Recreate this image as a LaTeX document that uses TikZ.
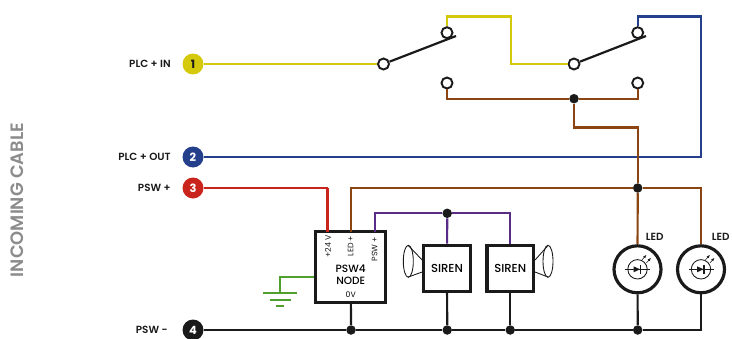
\documentclass[tikz,border=0pt]{standalone}
\usepackage{fontspec}
\setmainfont{Poppins}
\newfontfamily\mediumfont{Poppins Medium}
\newfontfamily\heavyfont{Poppins SemiBold}
\usetikzlibrary{positioning,calc,arrows.meta}
\definecolor{wireyellow}{HTML}{D4C90A}
\definecolor{wireblue}{HTML}{243F8C}
\definecolor{wirered}{HTML}{C9251C}
\definecolor{wirebrown}{HTML}{8B4513}
\definecolor{wirepurple}{HTML}{5B2C86}
\definecolor{wiregreen}{HTML}{4FA02F}
\definecolor{wireblack}{HTML}{1A1A1A}
\definecolor{titlegray}{HTML}{8C8C8C}
\tikzset{
    wire/.style={line width=1.25pt, line join=miter},
    terminal/.style={circle, minimum size=0.42cm, inner sep=0pt, font=\fontsize{6.5}{7}\selectfont\bfseries, text=white},
    contact/.style={draw=wireblack, circle, fill=white, line width=1.1pt, minimum size=0.22cm, inner sep=0pt},
    junction/.style={circle, fill=wireblack, minimum size=0.19cm, inner sep=0pt},
    label/.style={inner sep=0pt, font=\fontsize{5.9}{7}\heavyfont, text=wireblack},
    pinlabel/.style={inner sep=0pt, rotate=90, font=\fontsize{4.5}{5}\selectfont, text=wireblack},
    devicebox/.style={draw=wireblack, fill=white, line width=1.8pt, inner sep=0pt},
    ledring/.style={draw=wireblack, circle, fill=white, line width=1.8pt, minimum size=0.94cm, inner sep=0pt},
}
\begin{document}
\begin{tikzpicture}[x=0.02cm, y=-0.02cm]
    \useasboundingbox (0,0) rectangle (732,338);

    % incoming cable
    \node (title) [rotate=90, inner sep=0pt, text=titlegray, font=\fontsize{10.2}{11}\heavyfont] at (17,200) {INCOMING CABLE};
    \node (one) [terminal, fill=wireyellow, text=wireblack] at (193,64) {1};
    \node (two) [terminal, fill=wireblue] at (193,157) {2};
    \node (three) [terminal, fill=wirered] at (193,188) {3};
    \node (four) [terminal, fill=wireblack] at (193,330) {4};
    \node (plcin) [label, anchor=east] at (171,64) {PLC + IN};
    \node (plcout) [label, anchor=east] at (171,157) {PLC + OUT};
    \node (pswplus) [label, anchor=east] at (171,188) {PSW +};
    \node (pswminus) [label, anchor=east] at (168,330) {PSW -};

    % switches
    \node (pivotA) [contact] at (383.5,64) {};
    \node (upA) [contact] at (447,32.7) {};
    \node (downA) [contact] at (447,83) {};
    \node (pivotB) [contact] at (574,64) {};
    \node (upB) [contact] at (637.7,32.7) {};
    \node (downB) [contact] at (637.7,83) {};
    \coordinate (leverA) at (456,36);
    \coordinate (leverB) at (646,36);
    \coordinate (yellowtop) at (511,16.5);
    \coordinate (bluetop) at (701,16.5);
    \coordinate (browntop) at (637.7,127.5);

    % devices
    \node (psw) [devicebox, minimum width=1.4cm, minimum height=1.41cm] at (350.7,266.9) {};
    \node (sirenA) [devicebox, minimum width=0.93cm, minimum height=0.92cm, font=\fontsize{6.6}{7}\mediumfont] at (447,268.3) {SIREN};
    \node (sirenB) [devicebox, minimum width=0.93cm, minimum height=0.92cm, font=\fontsize{6.6}{7}\mediumfont] at (510.2,268.3) {SIREN};
    \node (ledA) [ledring] at (637.5,269.3) {};
    \node (ledB) [ledring] at (701,269.3) {};
    \node (ledtextA) [label] at (654.7,237.3) {LED};
    \node (ledtextB) [label] at (720.7,237.3) {LED};

    \node (pin24) [pinlabel] at (328,246.7) {+24 V};
    \node (pinled) [pinlabel] at (350.7,246) {LED +};
    \node (pinpsw) [pinlabel] at (374.5,249) {PSW +};
    \node (pswname) [inner sep=0pt, align=center, font=\fontsize{6}{6.6}\mediumfont] at (350.7,275) {PSW4\\NODE};
    \node (pinzero) [inner sep=0pt, font=\fontsize{4.4}{5}\selectfont] at (350.7,295) {0V};

    % junctions
    \node (jbrown) [junction] at (574,98.7) {};
    \node (jled) [junction] at (637.7,188) {};
    \node (jsiren) [junction] at (447.2,213.3) {};
    \node (jzero) [junction] at (351,330) {};
    \node (jsirenA) [junction] at (447.2,330) {};
    \node (jsirenB) [junction] at (510.2,330) {};
    \node (jledA) [junction] at (637.7,330) {};

    \coordinate (topred) at (327.7,231.7);
    \coordinate (topled) at (351,231.7);
    \coordinate (toppsw) at (375,231.7);

    % wires
    \draw [wire, wireyellow] (one) -- (pivotA);
    \draw [wire, wireyellow] (upA) |- (yellowtop) |- (pivotB);
    \draw [wire, wireblue] (two) -| (bluetop) -| (upB);
    \draw [wire, wirered] (three) -- (three -| topred);
    \draw [wire, wirered, line width=1.7pt] (three -| topred) -- (topred);
    \draw [wire, wirebrown] (downA) |- (jbrown);
    \draw [wire, wirebrown] (downB) |- (jbrown);
    \draw [wire, wirebrown] (jbrown) |- (browntop) -- (jled);
    \draw [wire, wirebrown] (jled) -- (ledA);
    \draw [wire, wirebrown] (topled) |- (jled);
    \draw [wire, wirebrown] (jled) -| (ledB);
    \draw [wire, wirepurple] (toppsw) |- (jsiren);
    \draw [wire, wirepurple] (jsiren) -| (sirenB);
    \draw [wire, wirepurple] (jsiren) -- (sirenA);
    \draw [wire, wireblack] (four) -- (jzero);
    \draw [wire, wireblack] (jzero) -- (jsirenA);
    \draw [wire, wireblack] (jsirenA) -- (jsirenB);
    \draw [wire, wireblack] (jsirenB) -- (jledA);
    \draw [wire, wireblack] (jledA) -| (ledB);
    \draw [wire, wireblack] (psw) -- (jzero);
    \draw [wire, wireblack] (sirenA) -- (jsirenA);
    \draw [wire, wireblack] (sirenB) -- (jsirenB);
    \draw [wire, wireblack] (ledA) -- (jledA);
    \draw [wire, wireblack] (pivotA) -- (leverA);
    \draw [wire, wireblack] (pivotB) -- (leverB);

    % ground
    \coordinate (gnd) at (280,293.3);
    \draw [wire, wiregreen] (psw.west |- 0,277.3) -| (gnd);
    \draw [wiregreen, line width=1.1pt] (263,293.3) -- (297,293.3);
    \draw [wiregreen, line width=1.1pt] (269.5,299.7) -- (290.5,299.7);
    \draw [wiregreen, line width=1.1pt] (276,306) -- (284,306);

    % horns
    \draw [wireblack, line width=0.5pt] (408.3,261.3) ellipse [x radius=5, y radius=16];
    \draw [wireblack, line width=0.5pt] (sirenA.west |- 0,260) -- (408.3,245.5);
    \draw [wireblack, line width=0.5pt] (sirenA.west |- 0,272) -- (408.3,277);
    \draw [wireblack, line width=0.5pt] (548,261.3) ellipse [x radius=5, y radius=16];
    \draw [wireblack, line width=0.5pt] (sirenB.east |- 0,260) -- (548,245.5);
    \draw [wireblack, line width=0.5pt] (sirenB.east |- 0,272) -- (548,277);

    % led symbols
    \foreach \led in {ledA,ledB} {
        \begin{scope}[shift={(\led)}]
            \draw [wireblack, line width=0.5pt] (0,0) circle [radius=9.7];
            \draw [wireblack, line width=0.5pt] (-12.5,0) -- (12.5,0);
            \fill [wireblack] (-4,-3) -- (2.5,0) -- (-4,3) -- cycle;
            \draw [wireblack, line width=0.7pt] (3,-4.5) -- (3,4.5);
            \draw [wireblack, line width=0.3pt, -{Latex[length=2pt,width=1.5pt]}] (4.5,-9.5) -- (9,-14.5);
            \draw [wireblack, line width=0.3pt, -{Latex[length=2pt,width=1.5pt]}] (9,-6.5) -- (13.5,-11.5);
        \end{scope}
    }
\end{tikzpicture}
\end{document}
